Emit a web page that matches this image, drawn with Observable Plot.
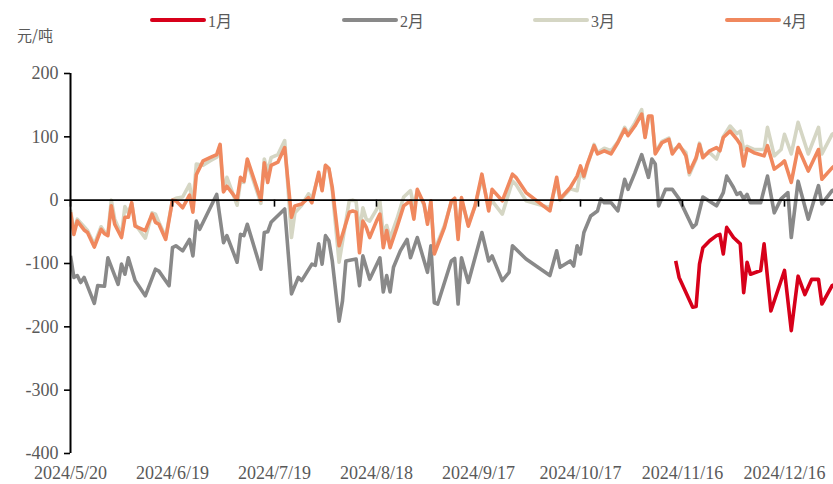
<!DOCTYPE html>
<html><head><meta charset="utf-8">
<script src="https://cdn.jsdelivr.net/npm/d3@7"></script>
<script src="https://cdn.jsdelivr.net/npm/@observablehq/plot@0.6"></script>
<style>
body{margin:0;background:#fff;}
#wrap{position:relative;width:833px;height:484px;overflow:hidden;background:#fff;}
#head{position:relative;height:40px;}
.lg{position:absolute;top:8px;font-family:"Liberation Serif","Noto Sans CJK SC",serif;font-size:16px;color:#595959;display:flex;align-items:center;white-space:nowrap;}
.sw{display:inline-block;width:56px;height:4px;border-radius:2px;margin-right:2px;}
#unit{position:absolute;left:17px;top:24px;font-family:"Noto Sans CJK SC",sans-serif;font-size:15px;color:#595959;}
</style>
</head><body>
<div id="wrap"><div id="head"></div><div id="chart"></div></div>
<script>
// ---- data ----
const seriesNames = ["1月", "2月", "3月", "4月"];
const seriesColors = ["#d7001a", "#898989", "#d5d6c4", "#f0885e"];
const unitLabel = "元/吨";
const xTickLabels = ["2024-05-20","2024-06-19","2024-07-19","2024-08-18","2024-09-17","2024-10-17","2024-11-16","2024-12-16"];
const yTicks = [-400, -300, -200, -100, 0, 100, 200];

const dates1 = ["2024-11-14","2024-11-15","2024-11-19","2024-11-20","2024-11-21","2024-11-22","2024-11-24","2024-11-26","2024-11-27","2024-11-28",
  "2024-11-29","2024-12-01","2024-12-03","2024-12-04","2024-12-05","2024-12-06","2024-12-09","2024-12-10","2024-12-12","2024-12-16",
  "2024-12-18","2024-12-20","2024-12-22","2024-12-24","2024-12-26","2024-12-27","2024-12-30","2025-01-01"];
const jan = [-96,-122,-169,-168,-101,-75,-64,-56,-54,-85,
  -43,-59,-69,-146,-98,-117,-111,-69,-175,-111,
  -206,-120,-149,-125,-125,-164,-135,-130];

const dates2 = ["2024-05-20","2024-05-21","2024-05-22","2024-05-23","2024-05-24","2024-05-27","2024-05-28","2024-05-30","2024-05-31","2024-06-03",
  "2024-06-04","2024-06-05","2024-06-06","2024-06-08","2024-06-11","2024-06-14","2024-06-15","2024-06-18","2024-06-19","2024-06-20",
  "2024-06-22","2024-06-24","2024-06-25","2024-06-26","2024-06-27","2024-07-02","2024-07-04","2024-07-05","2024-07-08","2024-07-09",
  "2024-07-10","2024-07-11","2024-07-15","2024-07-16","2024-07-17","2024-07-18","2024-07-22","2024-07-24","2024-07-26","2024-07-27",
  "2024-07-30","2024-07-31","2024-08-01","2024-08-02","2024-08-03","2024-08-04","2024-08-05","2024-08-07","2024-08-08","2024-08-09",
  "2024-08-12","2024-08-13","2024-08-14","2024-08-16","2024-08-19","2024-08-20","2024-08-21","2024-08-22","2024-08-23","2024-08-25",
  "2024-08-27","2024-08-28","2024-08-30","2024-09-02","2024-09-03","2024-09-04","2024-09-05","2024-09-09","2024-09-10","2024-09-11",
  "2024-09-12","2024-09-14","2024-09-18","2024-09-20","2024-09-21","2024-09-24","2024-09-26","2024-09-27","2024-10-01","2024-10-08",
  "2024-10-10","2024-10-11","2024-10-14","2024-10-15","2024-10-16","2024-10-17","2024-10-18","2024-10-20","2024-10-22","2024-10-23",
  "2024-10-24","2024-10-26","2024-10-28","2024-10-30","2024-10-31","2024-11-02","2024-11-04","2024-11-05","2024-11-06","2024-11-07",
  "2024-11-08","2024-11-09","2024-11-11","2024-11-13","2024-11-15","2024-11-19","2024-11-20","2024-11-22","2024-11-26","2024-11-28",
  "2024-11-29","2024-12-01","2024-12-02","2024-12-03","2024-12-04","2024-12-05","2024-12-06","2024-12-09","2024-12-11","2024-12-13",
  "2024-12-15","2024-12-17","2024-12-18","2024-12-20","2024-12-23","2024-12-26","2024-12-27","2024-12-30","2025-01-01"];
const feb = [-88,-122,-119,-130,-122,-163,-135,-136,-91,-133,
  -101,-117,-91,-127,-151,-109,-112,-135,-75,-72,
  -80,-62,-88,-33,-46,9,-67,-56,-98,-54,
  -56,-38,-109,-51,-50,-35,-14,-148,-122,-127,
  -101,-103,-69,-101,-56,-64,-96,-191,-159,-96,
  -93,-135,-88,-125,-91,-145,-119,-145,-106,-80,
  -62,-91,-59,-114,-72,-162,-164,-96,-92,-164,
  -91,-130,-51,-96,-88,-127,-114,-72,-93,-119,
  -80,-106,-96,-104,-72,-85,-51,-25,-17,2,
  -4,-4,-17,33,17,43,72,54,36,65,
  57,-9,17,17,2,-43,-38,5,-9,12,
  38,20,9,12,2,9,-4,-4,38,-20,
  2,12,-59,30,-30,23,-6,15,20];

const dates34 = ["2024-05-20","2024-05-21","2024-05-22","2024-05-24","2024-05-25","2024-05-27","2024-05-29","2024-05-30","2024-05-31","2024-06-01",
  "2024-06-02","2024-06-04","2024-06-05","2024-06-06","2024-06-07","2024-06-08","2024-06-11","2024-06-13","2024-06-14","2024-06-15",
  "2024-06-17","2024-06-19","2024-06-20","2024-06-22","2024-06-24","2024-06-25","2024-06-26","2024-06-28","2024-06-30","2024-07-02",
  "2024-07-03","2024-07-04","2024-07-05","2024-07-08","2024-07-09","2024-07-10","2024-07-11","2024-07-15","2024-07-16","2024-07-17",
  "2024-07-18","2024-07-20","2024-07-22","2024-07-24","2024-07-25","2024-07-27","2024-07-29","2024-07-30","2024-08-01","2024-08-02",
  "2024-08-03","2024-08-04","2024-08-05","2024-08-07","2024-08-10","2024-08-11","2024-08-12","2024-08-13","2024-08-14","2024-08-15",
  "2024-08-16","2024-08-18","2024-08-19","2024-08-20","2024-08-21","2024-08-22","2024-08-24","2024-08-26","2024-08-28","2024-08-29",
  "2024-08-30","2024-09-01","2024-09-02","2024-09-03","2024-09-04","2024-09-07","2024-09-09","2024-09-10","2024-09-11","2024-09-12",
  "2024-09-14","2024-09-16","2024-09-18","2024-09-20","2024-09-21","2024-09-24","2024-09-27","2024-09-28","2024-10-01","2024-10-08",
  "2024-10-10","2024-10-11","2024-10-14","2024-10-16","2024-10-17","2024-10-18","2024-10-19","2024-10-21","2024-10-22","2024-10-24",
  "2024-10-26","2024-10-28","2024-10-30","2024-10-31","2024-11-02","2024-11-04","2024-11-05","2024-11-06","2024-11-07","2024-11-08",
  "2024-11-10","2024-11-12","2024-11-13","2024-11-15","2024-11-17","2024-11-18","2024-11-20","2024-11-21","2024-11-22","2024-11-24",
  "2024-11-26","2024-11-27","2024-11-28","2024-11-30","2024-12-02","2024-12-03","2024-12-04","2024-12-05","2024-12-07","2024-12-10",
  "2024-12-11","2024-12-13","2024-12-15","2024-12-16","2024-12-18","2024-12-20","2024-12-23","2024-12-26","2024-12-27","2024-12-30",
  "2025-01-01"];
const mar = [-15,-50,-30,-42,-48,-70,-42,-50,-53,0,
  -30,-55,-10,-20,-5,-38,-60,-20,-22,-35,
  -58,0,3,5,25,-10,57,55,62,68,
  78,15,36,-8,30,28,60,-5,65,45,
  67,72,94,-59,-20,-8,10,2,40,18,
  55,50,15,-98,-1,0,-2,-50,-12,-30,
  -33,-15,-2,-54,-40,-60,-30,5,15,-10,
  15,-8,-35,-5,-80,-40,-3,0,-55,0,
  -38,-9,35,-10,-1,-22,30,25,-1,-12,
  30,0,18,15,45,35,55,88,75,82,
  78,92,115,105,122,143,100,130,130,75,
  93,98,78,85,75,40,65,90,70,75,
  65,80,100,117,105,109,80,85,80,80,
  115,70,80,104,73,123,73,115,73,104,
  110];
const apr = [-19,-54,-33,-47,-51,-74,-46,-53,-56,-9,
  -38,-59,-27,-27,-4,-41,-48,-22,-35,-38,
  -62,0,-1,-12,8,-19,40,62,67,72,
  88,13,22,1,36,30,65,0,59,28,
  55,60,83,-27,-9,-6,4,-4,44,15,
  55,50,20,-72,-19,-17,-19,-83,-33,-43,
  -59,-33,-22,-75,-48,-75,-43,-9,-1,-30,
  17,-6,-38,-1,-85,-43,-2,3,-62,4,
  -41,-9,41,-17,17,-1,41,36,12,-17,
  36,2,20,38,54,38,57,86,73,78,
  73,91,112,102,117,136,99,133,133,73,
  91,96,73,88,70,44,67,88,67,78,
  83,78,99,109,96,88,54,81,75,70,
  86,49,57,62,28,83,46,80,33,51,
  60];

// ---- build ----
const parse = d3.utcParse("%Y-%m-%d");
const fmt = d3.utcFormat("%Y/%-m/%-d");
function rows(name, dates, values) {
  return dates.map((d, i) => ({series: name, date: parse(d), value: values[i]}));
}
const data = [
  ...rows(seriesNames[0], dates1, jan),
  ...rows(seriesNames[1], dates2, feb),
  ...rows(seriesNames[2], dates34, mar),
  ...rows(seriesNames[3], dates34, apr)
];
const tickDates = xTickLabels.map(parse);
const x0 = parse("2024-05-20");
const x1 = new Date(Date.UTC(2024, 11, 30, 10));

// legend + unit (HTML above the SVG)
const head = document.getElementById("head");
const legendX = [150, 342, 533, 725];
seriesNames.forEach((n, i) => {
  const el = document.createElement("div");
  el.className = "lg";
  el.style.left = legendX[i] + "px";
  el.innerHTML = `<span class="sw" style="background:${seriesColors[i]}"></span>${n}`;
  head.appendChild(el);
});
const u = document.createElement("div");
u.id = "unit"; u.textContent = unitLabel; head.appendChild(u);

const numFont = {fontFamily: "Liberation Serif, serif", fontSize: 18};

const chart = Plot.plot({
  width: 833,
  height: 444,
  marginLeft: 70,
  marginRight: 0,
  marginTop: 33,
  marginBottom: 31,
  style: {background: "#fff", overflow: "visible"},
  x: {type: "utc", domain: [x0, x1], label: null},
  y: {domain: [-400, 200], label: null},
  color: {domain: seriesNames, range: seriesColors},
  marks: [
    Plot.line(data, {x: "date", y: "value", z: "series", stroke: "series", strokeWidth: 3.6, strokeLinejoin: "round", strokeLinecap: "butt", clip: true}),
    Plot.ruleY([0], {stroke: "#000", strokeWidth: 1.6}),
    Plot.ruleX(tickDates, {x: d => d, y1: 0, y2: -11, stroke: "#000", strokeWidth: 1.6}),
    Plot.ruleX([x0], {y1: -400, y2: 200, stroke: "#000", strokeWidth: 2}),
    Plot.axisY({ticks: yTicks, tickSize: 6, tickFormat: () => "", label: null, color: "#000", strokeWidth: 1.6}),
    Plot.axisY({ticks: yTicks, tickSize: 0, tickPadding: 12, tickFormat: d => String(d), label: null, color: "#595959", ...numFont}),
    Plot.axisX({ticks: tickDates, tickSize: 0, tickPadding: 13, tickFormat: fmt, label: null, color: "#595959", ...numFont, letterSpacing: "1.8px"})
  ]
});
document.getElementById("chart").appendChild(chart);
</script>
</body></html>
